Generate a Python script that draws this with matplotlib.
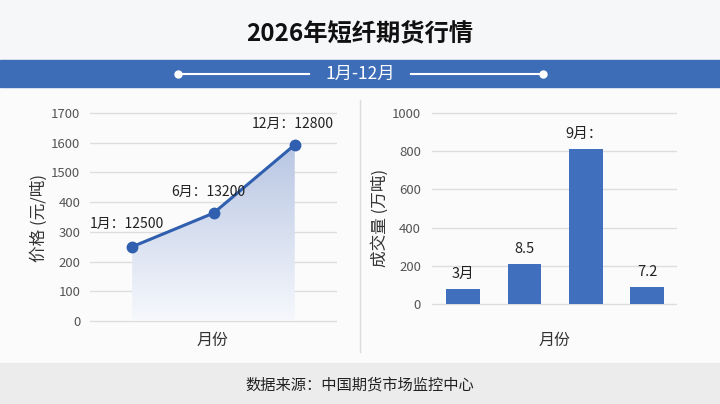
import matplotlib
matplotlib.use('Agg')
import matplotlib.pyplot as plt
import numpy as np
from matplotlib.patches import Rectangle, Polygon

plt.rcParams['font.family'] = ['Noto Sans CJK SC', 'DejaVu Sans']

## data
price_months = ['1月', '6月', '12月']
price_labels = ['1月：12500', '6月：13200', '12月：12800']
price_values = [250, 363, 1593]
price_ticks = [0, 100, 200, 300, 400, 1500, 1600, 1700]

vol_labels = ['3月', '8.5', '9月：', '7.2']
vol_values = [78, 209, 811, 89]
vol_ticks = [0, 200, 400, 600, 800, 1000]

W, H = 720, 404
blue = '#3e6db8'
fig = plt.figure(figsize=(W / 100, H / 100), dpi=100)
fig.patch.set_facecolor('#f6f7f9')


def fx(px):
    return px / W


def fy(py):
    return 1 - py / H


## background panels
fig.add_artist(Rectangle((0, fy(363)), 1, fy(87) - fy(363), transform=fig.transFigure,
                         color='#fbfbfc', zorder=-5))
fig.add_artist(Rectangle((0, 0), 1, fy(363), transform=fig.transFigure,
                         color='#ececec', zorder=-5))
fig.add_artist(Rectangle((0, fy(87)), 1, fy(60) - fy(87), transform=fig.transFigure,
                         color=blue, zorder=-4))

## title and band
fig.text(0.5, fy(33), '2026年短纤期货行情', ha='center', va='center',
         fontsize=17.5, fontweight='bold', color='#111111')
fig.text(0.5, fy(74), '1月-12月', ha='center', va='center', fontsize=12.5, color='white')
for x0, x1, xd in [(178, 309, 178), (411, 543, 543)]:
    fig.add_artist(plt.Line2D([fx(x0), fx(x1)], [fy(74), fy(74)], transform=fig.transFigure,
                              color='white', lw=1.5, zorder=3))
    fig.add_artist(plt.Line2D([fx(xd)], [fy(74)], transform=fig.transFigure, color='white',
                              marker='o', ms=5, zorder=3))

fig.add_artist(plt.Line2D([0.5, 0.5], [fy(100), fy(352)], transform=fig.transFigure,
                          color='#dcdcdc', lw=1))

fig.text(0.5, fy(385), '数据来源：中国期货市场监控中心', ha='center', va='center',
         fontsize=11, color='#222222')

## left: price line
tick_pos = np.arange(len(price_ticks))
ax1 = fig.add_axes([fx(90), fy(322.5), fx(247), (322.5 - 111.5) / H])
ax1.set_facecolor('none')
x = np.arange(len(price_months))
y = np.interp(price_values, price_ticks, tick_pos)

grad = np.linspace(0, 1, 256).reshape(-1, 1)
cmap = matplotlib.colors.LinearSegmentedColormap.from_list('g', ['#f6f8fc', '#b8c6e3'])
im = ax1.imshow(grad, extent=[x[0], x[-1], 0, y.max()], origin='lower', aspect='auto',
                cmap=cmap, zorder=1)
poly = Polygon(np.column_stack([np.r_[x, x[-1], x[0]], np.r_[y, 0, 0]]),
               closed=True, transform=ax1.transData, facecolor='none', edgecolor='none')
ax1.add_patch(poly)
im.set_clip_path(poly)
ax1.set_xlim(-0.52, 2.52)
ax1.set_ylim(-0.05, 7.05)

ax1.plot(x, y, color='#2f5fae', lw=2.2, marker='o', ms=7.5, zorder=3)
offs = [(-0.07, 0.75), (-0.07, 0.72), (-0.02, 0.7)]
for xi, yi, lab, (dx, dy) in zip(x, y, price_labels, offs):
    ax1.text(xi + dx, yi + dy, lab, ha='center', va='center', fontsize=10, color='#222222',
             zorder=4)

ax1.set_yticks(tick_pos)
ax1.set_yticklabels([str(t) for t in price_ticks])
ax1.set_xticks([])
ax1.grid(axis='y', color='#dddddd', lw=1)
ax1.set_axisbelow(True)
ax1.tick_params(axis='y', length=0, pad=7, labelsize=9.5, labelcolor='#555555')
for s in ax1.spines.values():
    s.set_visible(False)
fig.text(fx(39), fy(218), '价格 (元/吨)', rotation=90, ha='center', va='center',
         fontsize=12, color='#333333')
fig.text(fx(213), fy(340), '月份', ha='center', va='center', fontsize=11.5, color='#333333')

## right: volume bars
ax2 = fig.add_axes([fx(432), fy(305.5), fx(245), (305.5 - 111.5) / H])
ax2.set_facecolor('none')
xb = np.arange(len(vol_values))
ax2.bar(xb, vol_values, width=0.55, color='#3f6fbd', zorder=2)
ax2.set_xlim(-0.51, 3.49)
ax2.set_ylim(-8, 1008)
for xi, v, lab in zip(xb, vol_values, vol_labels):
    ax2.text(xi - (0.03 if lab.endswith('：') else 0), v + 80, lab, ha='center', va='center',
             fontsize=10.5, color='#222222')
ax2.set_yticks(vol_ticks)
ax2.set_xticks([])
ax2.grid(axis='y', color='#dddddd', lw=1)
ax2.set_axisbelow(True)
ax2.tick_params(axis='y', length=0, pad=8, labelsize=9.5, labelcolor='#555555')
for s in ax2.spines.values():
    s.set_visible(False)
fig.text(fx(380), fy(218), '成交量 (万吨)', rotation=90, ha='center', va='center',
         fontsize=12, color='#333333')
fig.text(fx(555), fy(340), '月份', ha='center', va='center', fontsize=11.5, color='#333333')

plt.savefig('out.png', dpi=100, facecolor=fig.get_facecolor())
